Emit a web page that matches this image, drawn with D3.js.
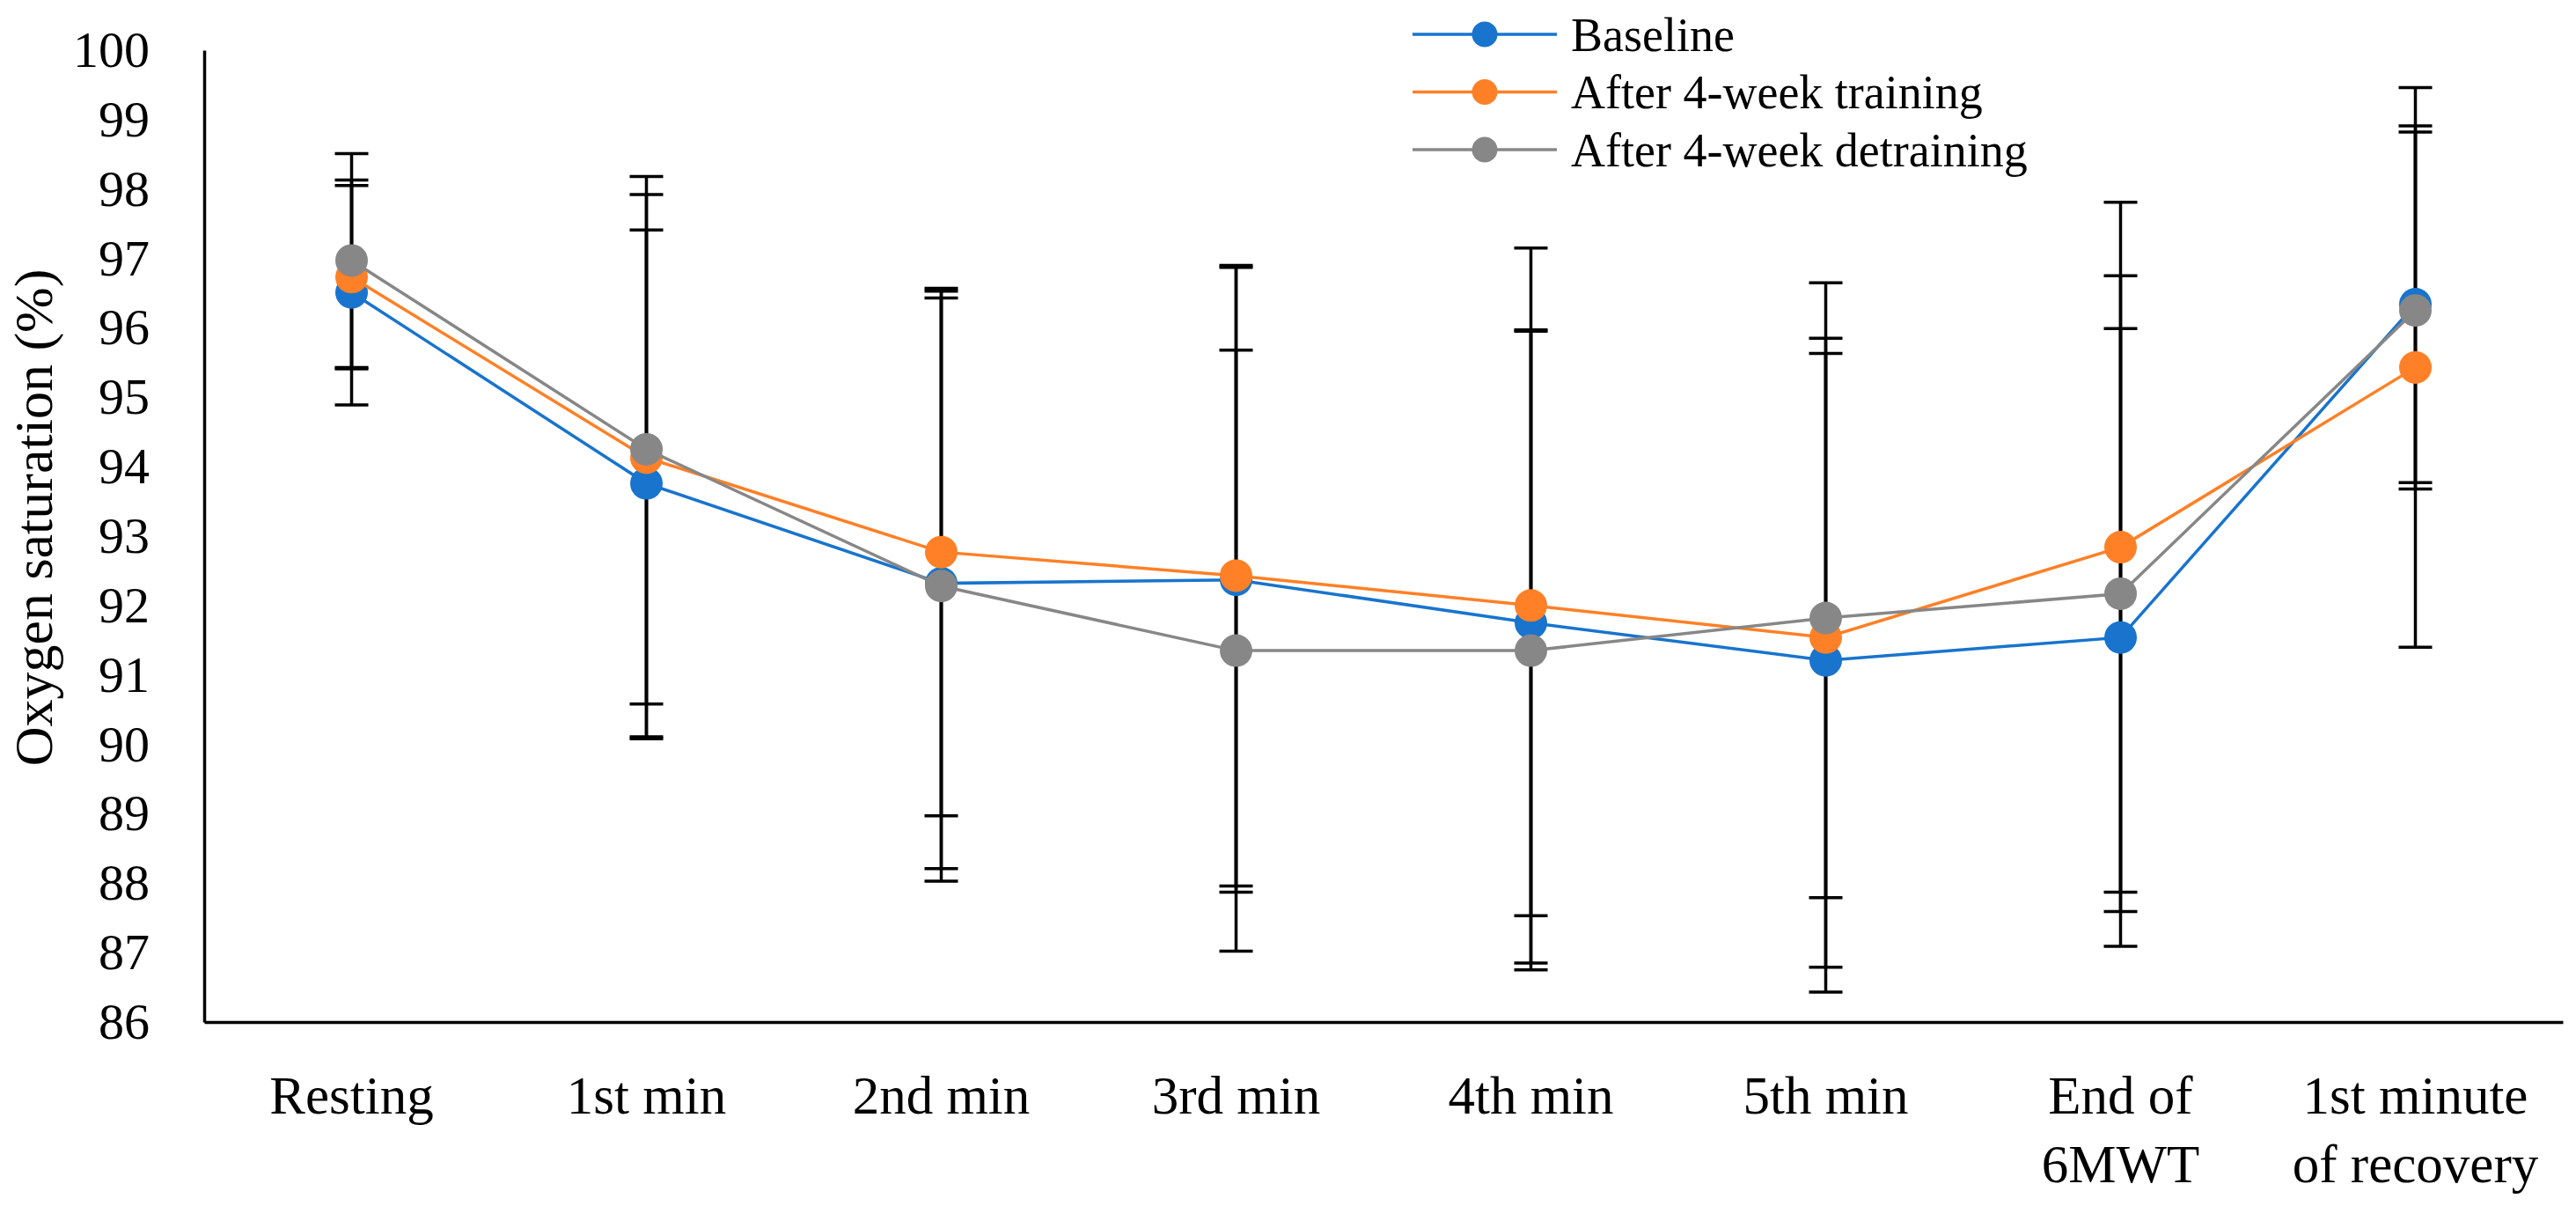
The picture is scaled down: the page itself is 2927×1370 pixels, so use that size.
<!DOCTYPE html>
<html>
<head>
<meta charset="utf-8">
<script src="https://cdn.jsdelivr.net/npm/d3@7"></script>
<style>
  body { margin: 0; background: #fff; }
  text { font-family: 'Liberation Serif', 'DejaVu Serif', serif; fill: #000; }
</style>
</head>
<body>
<div id="chart"></div>
<script>
// categories (multi-line labels)
var categories = [
  ['Resting'], ['1st min'], ['2nd min'], ['3rd min'], ['4th min'], ['5th min'],
  ['End of', '6MWT'], ['1st minute', 'of recovery']
]
var seriesNames = ['Baseline', 'After 4-week training', 'After 4-week detraining']

// means and SDs
var baseline     = [96.51, 93.76, 92.32, 92.37, 91.75, 91.21, 91.54, 96.34]
var baselineSD   = [1.62, 3.65, 4.11, 4.50, 4.22, 4.42, 4.45, 2.57]
var training     = [96.73, 94.13, 92.77, 92.43, 92.00, 91.54, 92.84, 95.43]
var trainingSD   = [1.32, 4.05, 3.80, 4.47, 5.15, 5.11, 4.97, 4.03]
var detraining   = [96.97, 94.25, 92.28, 91.35, 91.35, 91.82, 92.17, 96.25]
var detrainingSD = [1.54, 3.67, 4.25, 4.33, 4.60, 4.03, 4.58, 2.57]

var yTicks = d3.range(86, 101, 1)

var colors = ['#1874cd', '#ff8026', '#878787']

var width = 2927, height = 1370
var margin = {top: 57, right: 15, bottom: 209, left: 232}
var innerW = width - margin.left - margin.right
var innerH = height - margin.top - margin.bottom

var series = [
  {name: seriesNames[0], mean: baseline, sd: baselineSD, color: colors[0]},
  {name: seriesNames[1], mean: training, sd: trainingSD, color: colors[1]},
  {name: seriesNames[2], mean: detraining, sd: detrainingSD, color: colors[2]}
]

var x = d3.scaleBand()
  .domain(d3.range(categories.length))
  .range([0, innerW])

var y = d3.scaleLinear()
  .domain([86, 100])
  .range([innerH, 0])

var svg = d3.select('#chart').append('svg')
  .attr('width', width)
  .attr('height', height)

var g = svg.append('g')
  .attr('transform', 'translate(' + margin.left + ',' + margin.top + ')')

// y axis
var yAxis = d3.axisLeft(y)
  .tickValues(yTicks)
  .tickSize(0)
  .tickPadding(62)
  .tickFormat(d3.format('d'))

var yg = g.append('g').call(yAxis)
yg.select('.domain').attr('stroke', '#000').attr('stroke-width', 3.5)
yg.selectAll('text').style('font-size', '58px')
  .attr('font-family', null)

// x axis
var xAxis = d3.axisBottom(x).tickSize(0).tickFormat('')
var xg = g.append('g')
  .attr('transform', 'translate(0,' + innerH + ')')
  .call(xAxis)
xg.select('.domain').attr('stroke', '#000').attr('stroke-width', 3.5)

xg.selectAll('.tick').each(function (d) {
  var t = d3.select(this).append('text')
    .attr('text-anchor', 'middle')
    .style('font-size', '61px')
  categories[d].forEach(function (line, i) {
    t.append('tspan')
      .attr('x', 0)
      .attr('y', 104 + i * 78)
      .text(line)
  })
})

// y axis title
svg.append('text')
  .attr('transform', 'translate(59,588) rotate(-90)')
  .attr('text-anchor', 'middle')
  .style('font-size', '62px')
  .text('Oxygen saturation (%)')

var cx = function (i) { return x(i) + x.bandwidth() / 2 }

// error bars
series.forEach(function (s) {
  var eb = g.append('g').attr('class', 'errorbars')
  s.mean.forEach(function (m, i) {
    var lo = y(m - s.sd[i]), hi = y(m + s.sd[i])
    eb.append('line')
      .attr('x1', cx(i)).attr('x2', cx(i))
      .attr('y1', lo).attr('y2', hi)
      .attr('stroke', '#000').attr('stroke-width', 3.5)
    ;[lo, hi].forEach(function (yy) {
      eb.append('line')
        .attr('x1', cx(i) - 19).attr('x2', cx(i) + 19)
        .attr('y1', yy).attr('y2', yy)
        .attr('stroke', '#000').attr('stroke-width', 3.5)
    })
  })
})

// lines and markers
var line = d3.line()
  .x(function (d, i) { return cx(i) })
  .y(function (d) { return y(d) })

series.forEach(function (s) {
  g.append('path')
    .datum(s.mean)
    .attr('d', line)
    .attr('fill', 'none')
    .attr('stroke', s.color)
    .attr('stroke-width', 3.5)

  g.selectAll(null)
    .data(s.mean)
    .enter().append('circle')
    .attr('cx', function (d, i) { return cx(i) })
    .attr('cy', function (d) { return y(d) })
    .attr('r', 18.5)
    .attr('fill', s.color)
})

// legend
var legend = svg.append('g').attr('transform', 'translate(1605,39)')
series.forEach(function (s, i) {
  var row = legend.append('g').attr('transform', 'translate(0,' + (i * 65.5) + ')')
  row.append('line')
    .attr('x1', 0).attr('x2', 164)
    .attr('stroke', s.color).attr('stroke-width', 3.5)
  row.append('circle')
    .attr('cx', 82).attr('r', 14.5)
    .attr('fill', s.color)
  row.append('text')
    .attr('x', 180)
    .attr('dy', '0.35em')
    .style('font-size', '54px')
    .text(s.name)
})
</script>
</body>
</html>
